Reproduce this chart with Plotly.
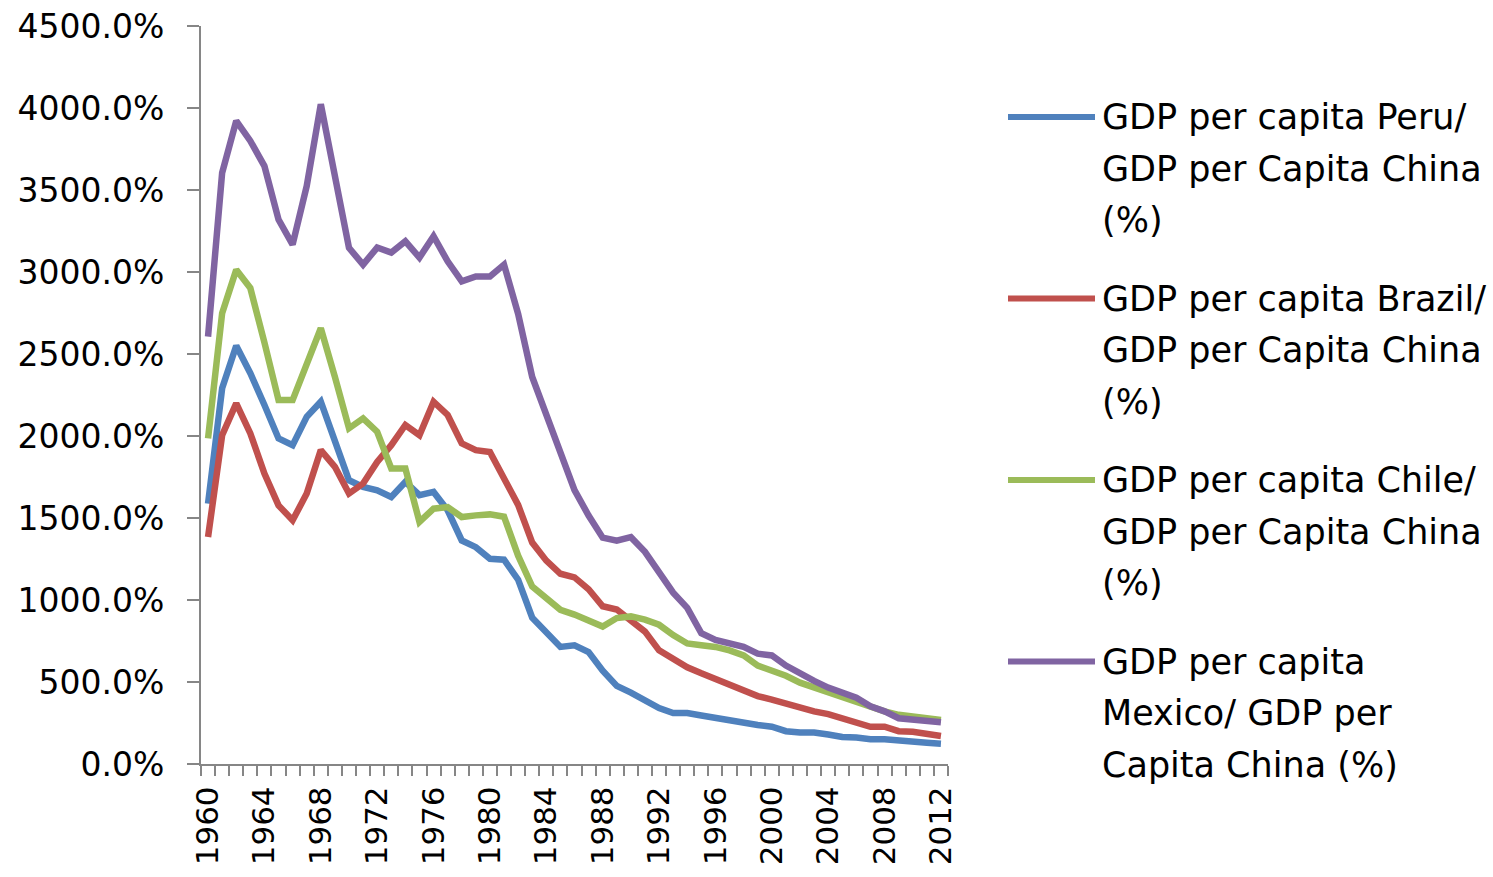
import plotly.graph_objects as go

# GDP per capita ratios to China, in percent, 1960-2012
years = list(range(1960, 2013))

peru = [1587, 2291, 2550, 2383, 2189, 1985, 1944, 2117, 2209, 1955,
        1730, 1689, 1669, 1628, 1720, 1639, 1659, 1547, 1363, 1322,
        1251, 1246, 1124, 892, 807, 714, 724, 683, 569, 476,
        435, 393, 341, 311, 311, 296, 279, 269, 248, 238,
        227, 200, 192, 192, 180, 165, 161, 151, 151, 141,
        140, 130, 124]

brazil = [1384, 2005, 2199, 2016, 1771, 1577, 1486, 1649, 1914, 1812,
          1649, 1710, 1842, 1944, 2067, 2005, 2209, 2128, 1955, 1914,
          1903, 1745, 1580, 1350, 1240, 1160, 1138, 1066, 962, 942,
          880, 807, 693, 642, 590, 553, 517, 476, 441, 414,
          393, 366, 341, 321, 304, 279, 252, 227, 227, 200,
          196, 186, 171]

chile = [1985, 2749, 3014, 2902, 2570, 2219, 2219, 2440, 2657, 2360,
         2047, 2107, 2026, 1802, 1802, 1476, 1557, 1567, 1506, 1516,
         1522, 1508, 1270, 1082, 1005, 940, 911, 869, 838, 890,
         900, 880, 849, 786, 735, 724, 714, 693, 662, 600,
         569, 538, 496, 466, 435, 404, 372, 352, 321, 300,
         290, 279, 269]

mexico = [2606, 3605, 3921, 3799, 3646, 3320, 3167, 3524, 4023, 3585,
          3147, 3045, 3149, 3118, 3187, 3088, 3218, 3065, 2943, 2973,
          2973, 3045, 2745, 2360, 2125, 1900, 1670, 1515, 1380, 1362,
          1383, 1294, 1170, 1045, 952, 797, 756, 735, 714, 673,
          662, 600, 548, 507, 466, 435, 404, 352, 321, 279,
          269, 259, 254]

series_names = [
    ["GDP per capita Peru/", "GDP per Capita China", "(%)"],
    ["GDP per capita Brazil/", "GDP per Capita China", "(%)"],
    ["GDP per capita Chile/", "GDP per Capita China", "(%)"],
    ["GDP per capita", "Mexico/ GDP per", "Capita China (%)"],
]
series_values = [peru, brazil, chile, mexico]
series_colors = ["#4F81BD", "#C0504D", "#9BBB59", "#8064A2"]

x_labels = list(range(1960, 2013, 4))

W, H = 1493, 877
ML, MR, MT, MB = 201, 545, 26, 113
PW, PH = W - ML - MR, H - MT - MB

FONT = "DejaVu Sans"
AXIS_GREY = "#868686"

fig = go.Figure()
for names, vals, col in zip(series_names, series_values, series_colors):
    fig.add_trace(go.Scatter(
        x=years, y=vals, mode="lines",
        name=" ".join(names),
        line=dict(color=col, width=6.5),
        showlegend=False,
    ))


def px_x(p):
    return (p - ML) / PW


def px_y(p):
    return (H - MB - p) / PH


# Legend block on the right: sample line + three text rows per series
entry_top = [117, 298.5, 480, 661.5]
row_gap = 51.7
for names, col, top in zip(series_names, series_colors, entry_top):
    fig.add_shape(type="line", xref="paper", yref="paper",
                  x0=px_x(1008), x1=px_x(1095), y0=px_y(top), y1=px_y(top),
                  line=dict(color=col, width=6))
    for i, txt in enumerate(names):
        fig.add_annotation(
            xref="paper", yref="paper", x=px_x(1100), y=px_y(top + i * row_gap),
            text=txt, showarrow=False, xanchor="left", yanchor="middle",
            font=dict(family=FONT, size=35, color="black"),
        )

fig.update_layout(
    width=W, height=H,
    margin=dict(l=ML, r=MR, t=MT, b=MB, autoexpand=False),
    paper_bgcolor="white", plot_bgcolor="white",
    font=dict(family=FONT, color="black"),
)

fig.update_xaxes(
    range=[1959.5, 2012.5],
    tickmode="array", tickvals=x_labels, ticktext=[str(v) for v in x_labels],
    ticks="", tickangle=-90, ticklabelstandoff=8,
    tickfont=dict(family=FONT, size=31, color="black"),
    showgrid=False, zeroline=False,
    showline=True, linecolor=AXIS_GREY, linewidth=2,
    minor=dict(tickmode="linear", tick0=1959.5, dtick=1, ticks="outside",
               ticklen=10, tickwidth=2, tickcolor=AXIS_GREY, showgrid=False),
)

fig.update_yaxes(
    range=[0, 4500], dtick=500, tickformat=".1f", ticksuffix="%",
    ticks="outside", ticklen=12, tickwidth=2, tickcolor=AXIS_GREY,
    ticklabelstandoff=16,
    tickfont=dict(family=FONT, size=33, color="black"),
    showgrid=False, zeroline=False,
    showline=True, linecolor=AXIS_GREY, linewidth=2,
)

fig.write_html("out.html")
